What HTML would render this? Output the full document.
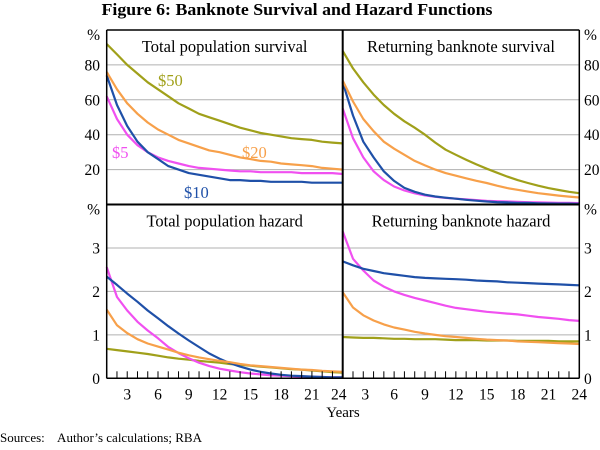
<!DOCTYPE html>
<html><head><meta charset="utf-8"><style>
html,body{margin:0;padding:0;background:#fff;width:600px;height:450px;overflow:hidden}
svg{display:block;font-family:"Liberation Serif",serif}
</style></head><body>
<svg id="chart" width="600" height="450" viewBox="0 0 600 450" xmlns="http://www.w3.org/2000/svg">
<text x="297" y="15" text-anchor="middle" font-size="17" font-weight="bold" textLength="391" lengthAdjust="spacingAndGlyphs">Figure 6: Banknote Survival and Hazard Functions</text>
<g id="grid"></g><g id="series"></g><g id="frame"></g><g id="labels"></g>
<text x="343" y="417" text-anchor="middle" font-size="15">Years</text>
<text x="0" y="442" font-size="13">Sources:&#160;&#160;&#160; Author’s calculations; RBA</text>
</svg>
<script>
const years=[1,2,3,4,5,6,7,8,9,10,11,12,13,14,15,16,17,18,19,20,21,22,23,24];
const xTicks=[3,6,9,12,15,18,21,24];
const survTicks=[20,40,60,80];
const hazTicks=[1,2,3];
const seriesNames=["$5","$10","$20","$50"];
// total population survival
const tps5=[62,49,40,34,30,27,25,23.5,22,21,20.5,20,19.5,19,19,18.5,18.5,18.5,18.5,18,18,18,18,17.5];
const tps10=[74,57,45,36,30,26,22,20,18,17,16,15,14,14,13.5,13.5,13,13,13,13,12.5,12.5,12.5,12.5];
const tps20=[76,66,58,52,47,43,40,37,35,33,31,30,28.5,27,26,25,24.5,23.5,23,22.5,22,21,20.5,20];
const tps50=[92,86,80,75,70,66,62,58,55,52,50,48,46,44,42.5,41,40,39,38,37.5,37,36,35.5,35];
// returning banknote survival
const rbs5=[55,38,27,19,14,10.3,8,6.4,5.2,4.4,3.8,3.3,2.9,2.5,2.1,1.9,1.7,1.5,1.3,1.2,1.1,1,0.9,0.8];
const rbs10=[70,51,36,27,19,13.5,9.5,7.3,5.6,4.6,3.9,3.3,2.7,2.2,1.7,1.4,1.2,1,0.9,0.7,0.6,0.5,0.5,0.4];
const rbs20=[71,59,49,42,36,32,28.5,25,22.4,20,18,16.5,15,13.6,12.3,10.8,9.4,8.4,7.4,6.5,5.8,5.1,4.5,4];
const rbs50=[88,78,70,63,57,52,47.7,44,40,35.5,31.4,28.5,25.7,23,20.5,18.2,16,14,12.3,10.8,9.4,8.3,7.3,6.5];
// total population hazard
const tph5=[2.56,1.87,1.56,1.3,1.1,0.92,0.72,0.58,0.46,0.36,0.28,0.22,0.18,0.14,0.11,0.09,0.07,0.06,0.05,0.04,0.03,0.03,0.02,0.02];
const tph10=[2.34,2.15,1.95,1.76,1.56,1.38,1.2,1.03,0.87,0.72,0.57,0.45,0.35,0.27,0.2,0.15,0.11,0.08,0.06,0.05,0.04,0.03,0.02,0.02];
const tph20=[1.58,1.22,1.04,0.9,0.8,0.73,0.66,0.59,0.53,0.48,0.44,0.4,0.37,0.33,0.3,0.28,0.26,0.24,0.22,0.2,0.19,0.17,0.16,0.15];
const tph50=[0.68,0.65,0.62,0.59,0.56,0.52,0.48,0.45,0.43,0.4,0.38,0.36,0.33,0.31,0.29,0.27,0.25,0.23,0.21,0.2,0.18,0.16,0.14,0.13];
// returning banknote hazard
const rbh5=[3.38,2.75,2.48,2.25,2.11,2.0,1.92,1.85,1.79,1.73,1.67,1.62,1.59,1.56,1.53,1.51,1.49,1.47,1.44,1.41,1.39,1.37,1.34,1.32];
const rbh10=[2.69,2.6,2.52,2.47,2.42,2.39,2.36,2.33,2.31,2.3,2.29,2.28,2.27,2.25,2.24,2.23,2.21,2.2,2.19,2.18,2.17,2.16,2.15,2.14];
const rbh20=[1.98,1.63,1.45,1.33,1.24,1.17,1.12,1.07,1.03,1.0,0.97,0.95,0.93,0.91,0.89,0.88,0.87,0.85,0.84,0.83,0.82,0.81,0.8,0.79];
const rbh50=[0.95,0.94,0.93,0.93,0.92,0.91,0.91,0.9,0.9,0.9,0.89,0.88,0.88,0.88,0.87,0.87,0.87,0.86,0.86,0.86,0.86,0.85,0.85,0.85];

const colors={"$5":"#f050f0","$10":"#1f50a8","$20":"#f7a04a","$50":"#a0a01a"};
const NS="http://www.w3.org/2000/svg";
const L=106.7,M=342.7,R=579.3,T=30,MID=204.5,B=378.3;
function mk(tag,attrs,parent){const e=document.createElementNS(NS,tag);for(const k in attrs)e.setAttribute(k,attrs[k]);document.getElementById(parent).appendChild(e);return e;}
function xs(x0,x1){return v=>x0+(v-1)*(x1-x0)/23;}
function ys(y0,y1,max){return v=>y1-v*(y1-y0)/max;}
const panels=[
 {key:"total-survival",title:"Total population survival",x:xs(L,M),y:ys(T,MID,100),max:100,ticks:survTicks,data:[tps5,tps10,tps20,tps50]},
 {key:"returning-survival",title:"Returning banknote survival",x:xs(M,R),y:ys(T,MID,100),max:100,ticks:survTicks,data:[rbs5,rbs10,rbs20,rbs50]},
 {key:"total-hazard",title:"Total population hazard",x:xs(L,M),y:ys(MID,B,4),max:4,ticks:hazTicks,data:[tph5,tph10,tph20,tph50]},
 {key:"returning-hazard",title:"Returning banknote hazard",x:xs(M,R),y:ys(MID,B,4),max:4,ticks:hazTicks,data:[rbh5,rbh10,rbh20,rbh50]}
];
panels.forEach((p,pi)=>{
  const x0=p.x(1),x1=p.x(24);
  p.ticks.forEach(t=>{
    const g=mk("line",{x1:x0,x2:x1,y1:p.y(t),y2:p.y(t),stroke:"#b0b0b0","stroke-width":1},"grid");
    
    
  });
  const tx=mk("text",{x:(x0+x1)/2,y:p.y(p.max)+22,"text-anchor":"middle","font-size":"16.5"},"labels");
  tx.textContent=p.title;
  
  
  [3,0,1,2].forEach(si=>{
    const arr=p.data[si];
    const d=arr.map((v,i)=>(i?"L":"M")+p.x(years[i]).toFixed(1)+","+p.y(v).toFixed(1)).join(" ");
    const ln=mk("path",{d:d,fill:"none",stroke:colors[seriesNames[si]],"stroke-width":2.2,"stroke-linejoin":"round"},"series");
    
    
  });
});
// frame
[[L,T,R,T],[L,T,L,B],[R,T,R,B],[L,B,R,B],[M,T,M,B],[L,MID,R,MID]].forEach((c,i)=>{
  const f=mk("line",{x1:c[0],y1:c[1],x2:c[2],y2:c[3],stroke:"#000","stroke-width":i>=4?2:1.5},"frame");
  
  
});
// year ticks and labels
[xs(L,M),xs(M,R)].forEach((xf,k)=>{
  years.forEach(yv=>{
    const t=mk("line",{x1:xf(yv),x2:xf(yv),y1:B,y2:B-7,stroke:"#000","stroke-width":1},"frame");
    
    
  });
  xTicks.forEach(tv=>{
    const lx=(k===0&&tv===24)?xf(tv)-4:(k===1&&tv===3?xf(tv)+2:xf(tv));
    const tl=mk("text",{x:lx,y:B+21,"text-anchor":"middle","font-size":"15.5"},"labels");
    tl.textContent=tv;
    
    
  });
});
// y labels
const ySurv=ys(T,MID,100),yHaz=ys(MID,B,4);
[[ySurv,survTicks,"%",100],[yHaz,[0].concat(hazTicks),"%",4]].forEach(([yf,ticks,u,max])=>{
  ticks.forEach(tv=>{
    const a=mk("text",{x:100,y:yf(tv)+5.5,"text-anchor":"end","font-size":"15.5"},"labels");a.textContent=tv;
    
    
    const b=mk("text",{x:584,y:yf(tv)+5.5,"font-size":"15.5"},"labels");b.textContent=tv;
    
    
  });
  const ua=mk("text",{x:100,y:yf(max)+10,"text-anchor":"end","font-size":"15.5"},"labels");ua.textContent=u;
  
  
  const ub=mk("text",{x:584,y:yf(max)+10,"font-size":"15.5"},"labels");ub.textContent=u;
  
  
});
// series labels
[["$50",158,86],["$20",242,158],["$5",112,158],["$10",184,198]].forEach(([n,x,y])=>{
  const s=mk("text",{x:x,y:y,"font-size":"16.5",fill:colors[n]},"labels");s.textContent=n;
  
  
});
</script>
</body></html>
